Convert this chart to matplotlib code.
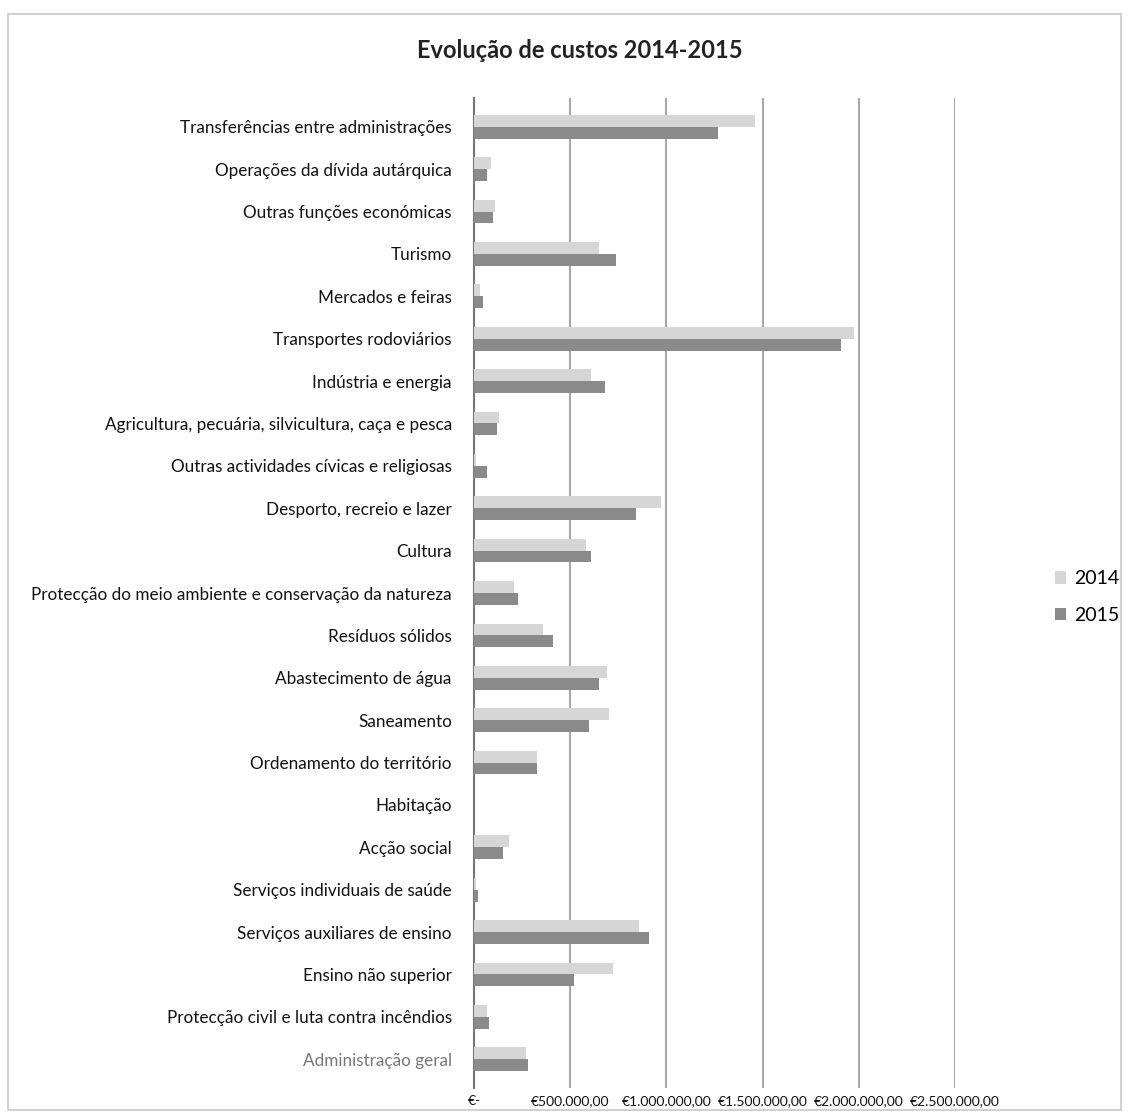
import matplotlib
matplotlib.use("Agg")
import matplotlib.pyplot as plt
from matplotlib.patches import Rectangle
import numpy as np

categories = [
    "Transferências entre administrações",
    "Operações da dívida autárquica",
    "Outras funções económicas",
    "Turismo",
    "Mercados e feiras",
    "Transportes rodoviários",
    "Indústria e energia",
    "Agricultura, pecuária, silvicultura, caça e pesca",
    "Outras actividades cívicas e religiosas",
    "Desporto, recreio e lazer",
    "Cultura",
    "Protecção do meio ambiente e conservação da natureza",
    "Resíduos sólidos",
    "Abastecimento de água",
    "Saneamento",
    "Ordenamento do território",
    "Habitação",
    "Acção social",
    "Serviços individuais de saúde",
    "Serviços auxiliares de ensino",
    "Ensino não superior",
    "Protecção civil e luta contra incêndios",
    "Administração geral",
]

values_2014 = [1460000, 90000, 110000, 650000, 30000, 1975000, 610000, 130000, 10000,
               970000, 580000, 210000, 360000, 690000, 700000, 330000, 0, 180000,
               10000, 860000, 720000, 70000, 270000]
values_2015 = [1270000, 70000, 100000, 740000, 45000, 1910000, 680000, 120000, 70000,
               840000, 610000, 230000, 410000, 650000, 600000, 330000, 0, 150000,
               20000, 910000, 520000, 80000, 280000]

series_labels = ["2014", "2015"]
xticks = [0, 500000, 1000000, 1500000, 2000000, 2500000]
xtick_labels = ["€-", "€500.000,00", "€1.000.000,00", "€1.500.000,00",
                "€2.000.000,00", "€2.500.000,00"]
title = "Evolução de custos 2014-2015"

plt.rcParams['font.family'] = ['Lato', 'DejaVu Sans']

W, H = 1128, 1117
fig = plt.figure(figsize=(W / 100, H / 100), dpi=100)
fig.patch.set_facecolor("white")

# outer chart border
fig.add_artist(Rectangle((8 / W, 1 - 1110 / H), (1121 - 8) / W, (1110 - 14) / H,
                         transform=fig.transFigure, fill=False,
                         edgecolor="#c8c8c8", linewidth=1.2))

left, right, top, bottom = 474, 955, 98, 1088
ax = fig.add_axes([left / W, 1 - bottom / H, (right - left) / W, (bottom - top) / H])

y = np.arange(len(categories))
h = 0.28
c14 = "#d6d6d6"
c15 = "#8a8a8a"
ax.barh(y - h / 2, values_2014, height=h, color=c14, label=series_labels[0], zorder=3)
ax.barh(y + h / 2, values_2015, height=h, color=c15, label=series_labels[1], zorder=3)

ax.set_ylim(22.68, -0.68)
ax.set_xlim(0, 2500000)
ax.set_xticks(xticks)
ax.set_xticklabels(xtick_labels, fontsize=10, color="#111111")
ax.set_yticks(y)
ax.set_yticklabels(categories, fontsize=12.3, color="#111111")
ax.get_yticklabels()[-1].set_color("#777777")
ax.tick_params(axis="y", length=0, pad=16)
ax.tick_params(axis="x", length=0, pad=5)

ax.grid(axis="x", color="#a8a8a8", linewidth=1.5, zorder=0)
for s in ["top", "right", "bottom"]:
    ax.spines[s].set_visible(False)
ax.spines["left"].set_color("#777777")
ax.spines["left"].set_linewidth(1.5)

fig.text(580 / W, 1 - 50 / H, title, ha="center", va="center",
         fontsize=17, fontweight="bold", color="#222222")

leg = fig.legend(loc="center left", bbox_to_anchor=(1037 / W, 1 - 597 / H),
                 frameon=False, fontsize=14, handlelength=0.6, handleheight=0.6,
                 labelspacing=1.0, handletextpad=0.4)

fig.savefig("out.png", dpi=100, facecolor="white")
